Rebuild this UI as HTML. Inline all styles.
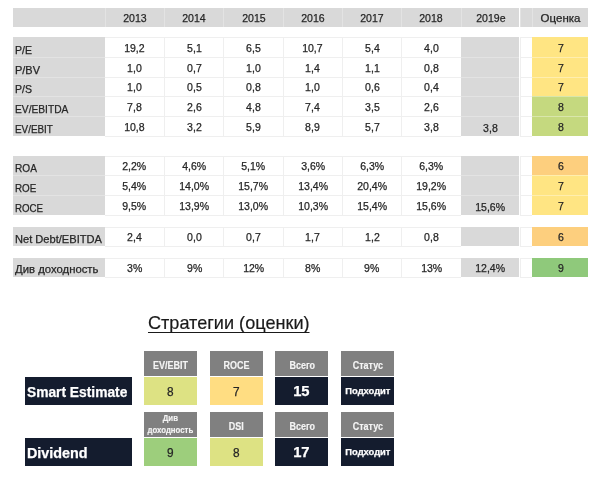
<!DOCTYPE html>
<html><head><meta charset="utf-8"><title>Стратегии (оценки)</title>
<style>
html,body{margin:0;padding:0;background:#fff;}
body{width:600px;height:495px;position:relative;overflow:hidden;font-family:"Liberation Sans",sans-serif;color:#262626;}
.c{position:absolute;box-sizing:border-box;display:flex;align-items:center;justify-content:center;font-size:10.7px;white-space:nowrap;}
.g{background:#d9d9d9;}
.gt{border-top:1px solid #e3e3e3;}
.gl{border-left:1px solid #e3e3e3;}
.l{justify-content:flex-start;padding-left:3px;}
.w{border-left:1px solid #efefef;border-top:1px solid #efefef;}
.wb{border-bottom:1px solid #efefef;}
.w0{border-left:none;}
.sct{border-top:1px solid rgba(255,255,255,.35);}
.s{display:inline-block;transform:scaleX(.985);transform-origin:center;-webkit-text-stroke:0.25px currentColor;position:relative;left:0;}
.l .s{transform-origin:left center;}
.hd{background:#808080;color:#f4f4f4;font-weight:bold;font-size:10px;}
.hd .s{transform:scaleX(.9);-webkit-text-stroke:0.15px currentColor;}
.nv{background:#141c2e;color:#fff;font-weight:bold;}
.nv.l .s{transform:scaleX(.95);}
.hd{padding-top:3px;}
</style></head><body>

<div class="c g" style="left:13px;top:8px;width:92px;height:19px;"><span class="s"></span></div>
<div class="c g gl" style="left:105px;top:8px;width:59.3px;height:19px;align-items:flex-start;line-height:12px;padding-top:4px;"><span class="s">2013</span></div>
<div class="c g gl" style="left:164.3px;top:8px;width:59.1px;height:19px;align-items:flex-start;line-height:12px;padding-top:4px;"><span class="s">2014</span></div>
<div class="c g gl" style="left:223.4px;top:8px;width:59.3px;height:19px;align-items:flex-start;line-height:12px;padding-top:4px;"><span class="s">2015</span></div>
<div class="c g gl" style="left:282.7px;top:8px;width:59.3px;height:19px;align-items:flex-start;line-height:12px;padding-top:4px;"><span class="s">2016</span></div>
<div class="c g gl" style="left:342px;top:8px;width:59.1px;height:19px;align-items:flex-start;line-height:12px;padding-top:4px;"><span class="s">2017</span></div>
<div class="c g gl" style="left:401.1px;top:8px;width:59.5px;height:19px;align-items:flex-start;line-height:12px;padding-top:4px;"><span class="s">2018</span></div>
<div class="c g gl" style="left:460.6px;top:8px;width:58.9px;height:19px;align-items:flex-start;line-height:12px;padding-top:4px;"><span class="s">2019e</span></div>
<div class="c g gl" style="left:519.5px;top:8px;width:12.5px;height:19px;"><span class="s"></span></div>
<div class="c g gl" style="left:532px;top:8px;width:56px;height:19px;align-items:flex-start;line-height:12px;padding-top:4px;"><span class="s" style="transform:scaleX(1.075);">Оценка</span></div>
<div class="c g l" style="left:13px;top:37px;width:92px;height:20px;padding-left:2px;align-items:flex-start;line-height:12px;padding-top:7px;"><span class="s" style="transform:scaleX(0.985);">P/E</span></div>
<div class="c w w0" style="left:105px;top:37px;width:59.3px;height:20px;align-items:flex-start;line-height:12px;padding-top:4px;"><span class="s">19,2</span></div>
<div class="c w" style="left:164.3px;top:37px;width:59.1px;height:20px;align-items:flex-start;line-height:12px;padding-top:4px;"><span class="s">5,1</span></div>
<div class="c w" style="left:223.4px;top:37px;width:59.3px;height:20px;align-items:flex-start;line-height:12px;padding-top:4px;"><span class="s">6,5</span></div>
<div class="c w" style="left:282.7px;top:37px;width:59.3px;height:20px;align-items:flex-start;line-height:12px;padding-top:4px;"><span class="s">10,7</span></div>
<div class="c w" style="left:342px;top:37px;width:59.1px;height:20px;align-items:flex-start;line-height:12px;padding-top:4px;"><span class="s">5,4</span></div>
<div class="c w" style="left:401.1px;top:37px;width:59.5px;height:20px;align-items:flex-start;line-height:12px;padding-top:4px;"><span class="s">4,0</span></div>
<div class="c g" style="left:460.6px;top:37px;width:58.9px;height:20px;align-items:flex-start;line-height:12px;padding-top:6px;"><span class="s"></span></div>
<div class="c w" style="left:519.5px;top:37px;width:12.5px;height:20px;"><span class="s"></span></div>
<div class="c " style="left:532px;top:37px;width:56px;height:20px;background:#FFE583;padding-left:2px;align-items:flex-start;line-height:12px;padding-top:5px;"><span class="s">7</span></div>
<div class="c g l gt" style="left:13px;top:57px;width:92px;height:20px;padding-left:2px;align-items:flex-start;line-height:12px;padding-top:6px;"><span class="s" style="transform:scaleX(1.025);">P/BV</span></div>
<div class="c w w0" style="left:105px;top:57px;width:59.3px;height:20px;align-items:flex-start;line-height:12px;padding-top:4px;"><span class="s">1,0</span></div>
<div class="c w" style="left:164.3px;top:57px;width:59.1px;height:20px;align-items:flex-start;line-height:12px;padding-top:4px;"><span class="s">0,7</span></div>
<div class="c w" style="left:223.4px;top:57px;width:59.3px;height:20px;align-items:flex-start;line-height:12px;padding-top:4px;"><span class="s">1,0</span></div>
<div class="c w" style="left:282.7px;top:57px;width:59.3px;height:20px;align-items:flex-start;line-height:12px;padding-top:4px;"><span class="s">1,4</span></div>
<div class="c w" style="left:342px;top:57px;width:59.1px;height:20px;align-items:flex-start;line-height:12px;padding-top:4px;"><span class="s">1,1</span></div>
<div class="c w" style="left:401.1px;top:57px;width:59.5px;height:20px;align-items:flex-start;line-height:12px;padding-top:4px;"><span class="s">0,8</span></div>
<div class="c g gt" style="left:460.6px;top:57px;width:58.9px;height:20px;align-items:flex-start;line-height:12px;padding-top:5px;"><span class="s"></span></div>
<div class="c w" style="left:519.5px;top:57px;width:12.5px;height:20px;"><span class="s"></span></div>
<div class="c sct" style="left:532px;top:57px;width:56px;height:20px;background:#FFE583;padding-left:2px;align-items:flex-start;line-height:12px;padding-top:4px;"><span class="s">7</span></div>
<div class="c g l gt" style="left:13px;top:77px;width:92px;height:19px;padding-left:2px;align-items:flex-start;line-height:12px;padding-top:5px;"><span class="s" style="transform:scaleX(0.985);">P/S</span></div>
<div class="c w w0" style="left:105px;top:77px;width:59.3px;height:19px;align-items:flex-start;line-height:12px;padding-top:3px;"><span class="s">1,0</span></div>
<div class="c w" style="left:164.3px;top:77px;width:59.1px;height:19px;align-items:flex-start;line-height:12px;padding-top:3px;"><span class="s">0,5</span></div>
<div class="c w" style="left:223.4px;top:77px;width:59.3px;height:19px;align-items:flex-start;line-height:12px;padding-top:3px;"><span class="s">0,8</span></div>
<div class="c w" style="left:282.7px;top:77px;width:59.3px;height:19px;align-items:flex-start;line-height:12px;padding-top:3px;"><span class="s">1,0</span></div>
<div class="c w" style="left:342px;top:77px;width:59.1px;height:19px;align-items:flex-start;line-height:12px;padding-top:3px;"><span class="s">0,6</span></div>
<div class="c w" style="left:401.1px;top:77px;width:59.5px;height:19px;align-items:flex-start;line-height:12px;padding-top:3px;"><span class="s">0,4</span></div>
<div class="c g gt" style="left:460.6px;top:77px;width:58.9px;height:19px;align-items:flex-start;line-height:12px;padding-top:4px;"><span class="s"></span></div>
<div class="c w" style="left:519.5px;top:77px;width:12.5px;height:19px;"><span class="s"></span></div>
<div class="c sct" style="left:532px;top:77px;width:56px;height:19px;background:#FFE583;padding-left:2px;align-items:flex-start;line-height:12px;padding-top:3px;"><span class="s">7</span></div>
<div class="c g l gt" style="left:13px;top:96px;width:92px;height:20px;padding-left:2px;align-items:flex-start;line-height:12px;padding-top:6px;"><span class="s" style="transform:scaleX(0.956);">EV/EBITDA</span></div>
<div class="c w w0" style="left:105px;top:96px;width:59.3px;height:20px;align-items:flex-start;line-height:12px;padding-top:4px;"><span class="s">7,8</span></div>
<div class="c w" style="left:164.3px;top:96px;width:59.1px;height:20px;align-items:flex-start;line-height:12px;padding-top:4px;"><span class="s">2,6</span></div>
<div class="c w" style="left:223.4px;top:96px;width:59.3px;height:20px;align-items:flex-start;line-height:12px;padding-top:4px;"><span class="s">4,8</span></div>
<div class="c w" style="left:282.7px;top:96px;width:59.3px;height:20px;align-items:flex-start;line-height:12px;padding-top:4px;"><span class="s">7,4</span></div>
<div class="c w" style="left:342px;top:96px;width:59.1px;height:20px;align-items:flex-start;line-height:12px;padding-top:4px;"><span class="s">3,5</span></div>
<div class="c w" style="left:401.1px;top:96px;width:59.5px;height:20px;align-items:flex-start;line-height:12px;padding-top:4px;"><span class="s">2,6</span></div>
<div class="c g gt" style="left:460.6px;top:96px;width:58.9px;height:20px;align-items:flex-start;line-height:12px;padding-top:5px;"><span class="s"></span></div>
<div class="c w" style="left:519.5px;top:96px;width:12.5px;height:20px;"><span class="s"></span></div>
<div class="c sct" style="left:532px;top:96px;width:56px;height:20px;background:#C5D97F;padding-left:2px;align-items:flex-start;line-height:12px;padding-top:4px;"><span class="s">8</span></div>
<div class="c g l gt" style="left:13px;top:116px;width:92px;height:20px;padding-left:2px;align-items:flex-start;line-height:12px;padding-top:6px;"><span class="s" style="transform:scaleX(0.925);">EV/EBIT</span></div>
<div class="c w wb w0" style="left:105px;top:116px;width:59.3px;height:21px;align-items:flex-start;line-height:12px;padding-top:4px;"><span class="s">10,8</span></div>
<div class="c w wb" style="left:164.3px;top:116px;width:59.1px;height:21px;align-items:flex-start;line-height:12px;padding-top:4px;"><span class="s">3,2</span></div>
<div class="c w wb" style="left:223.4px;top:116px;width:59.3px;height:21px;align-items:flex-start;line-height:12px;padding-top:4px;"><span class="s">5,9</span></div>
<div class="c w wb" style="left:282.7px;top:116px;width:59.3px;height:21px;align-items:flex-start;line-height:12px;padding-top:4px;"><span class="s">8,9</span></div>
<div class="c w wb" style="left:342px;top:116px;width:59.1px;height:21px;align-items:flex-start;line-height:12px;padding-top:4px;"><span class="s">5,7</span></div>
<div class="c w wb" style="left:401.1px;top:116px;width:59.5px;height:21px;align-items:flex-start;line-height:12px;padding-top:4px;"><span class="s">3,8</span></div>
<div class="c g gt" style="left:460.6px;top:116px;width:58.9px;height:20px;align-items:flex-start;line-height:12px;padding-top:5px;"><span class="s">3,8</span></div>
<div class="c w wb" style="left:519.5px;top:116px;width:12.5px;height:21px;"><span class="s"></span></div>
<div class="c sct" style="left:532px;top:116px;width:56px;height:20px;background:#C5D97F;padding-left:2px;align-items:flex-start;line-height:12px;padding-top:4px;"><span class="s">8</span></div>
<div class="c g l" style="left:13px;top:156px;width:92px;height:19px;padding-left:2px;align-items:flex-start;line-height:12px;padding-top:6px;"><span class="s" style="transform:scaleX(0.945);">ROA</span></div>
<div class="c w w0" style="left:105px;top:156px;width:59.3px;height:19px;align-items:flex-start;line-height:12px;padding-top:3px;"><span class="s">2,2%</span></div>
<div class="c w" style="left:164.3px;top:156px;width:59.1px;height:19px;align-items:flex-start;line-height:12px;padding-top:3px;"><span class="s">4,6%</span></div>
<div class="c w" style="left:223.4px;top:156px;width:59.3px;height:19px;align-items:flex-start;line-height:12px;padding-top:3px;"><span class="s">5,1%</span></div>
<div class="c w" style="left:282.7px;top:156px;width:59.3px;height:19px;align-items:flex-start;line-height:12px;padding-top:3px;"><span class="s">3,6%</span></div>
<div class="c w" style="left:342px;top:156px;width:59.1px;height:19px;align-items:flex-start;line-height:12px;padding-top:3px;"><span class="s">6,3%</span></div>
<div class="c w" style="left:401.1px;top:156px;width:59.5px;height:19px;align-items:flex-start;line-height:12px;padding-top:3px;"><span class="s">6,3%</span></div>
<div class="c g" style="left:460.6px;top:156px;width:58.9px;height:19px;align-items:flex-start;line-height:12px;padding-top:5px;"><span class="s"></span></div>
<div class="c w" style="left:519.5px;top:156px;width:12.5px;height:19px;"><span class="s"></span></div>
<div class="c " style="left:532px;top:156px;width:56px;height:19px;background:#FDCF7E;padding-left:2px;align-items:flex-start;line-height:12px;padding-top:4px;"><span class="s">6</span></div>
<div class="c g l gt" style="left:13px;top:175px;width:92px;height:20px;padding-left:2px;align-items:flex-start;line-height:12px;padding-top:6px;"><span class="s" style="transform:scaleX(0.92);">ROE</span></div>
<div class="c w w0" style="left:105px;top:175px;width:59.3px;height:20px;align-items:flex-start;line-height:12px;padding-top:4px;"><span class="s">5,4%</span></div>
<div class="c w" style="left:164.3px;top:175px;width:59.1px;height:20px;align-items:flex-start;line-height:12px;padding-top:4px;"><span class="s">14,0%</span></div>
<div class="c w" style="left:223.4px;top:175px;width:59.3px;height:20px;align-items:flex-start;line-height:12px;padding-top:4px;"><span class="s">15,7%</span></div>
<div class="c w" style="left:282.7px;top:175px;width:59.3px;height:20px;align-items:flex-start;line-height:12px;padding-top:4px;"><span class="s">13,4%</span></div>
<div class="c w" style="left:342px;top:175px;width:59.1px;height:20px;align-items:flex-start;line-height:12px;padding-top:4px;"><span class="s">20,4%</span></div>
<div class="c w" style="left:401.1px;top:175px;width:59.5px;height:20px;align-items:flex-start;line-height:12px;padding-top:4px;"><span class="s">19,2%</span></div>
<div class="c g gt" style="left:460.6px;top:175px;width:58.9px;height:20px;align-items:flex-start;line-height:12px;padding-top:5px;"><span class="s"></span></div>
<div class="c w" style="left:519.5px;top:175px;width:12.5px;height:20px;"><span class="s"></span></div>
<div class="c sct" style="left:532px;top:175px;width:56px;height:20px;background:#FFE583;padding-left:2px;align-items:flex-start;line-height:12px;padding-top:4px;"><span class="s">7</span></div>
<div class="c g l gt" style="left:13px;top:195px;width:92px;height:20px;padding-left:2px;align-items:flex-start;line-height:12px;padding-top:6px;"><span class="s" style="transform:scaleX(0.91);">ROCE</span></div>
<div class="c w wb w0" style="left:105px;top:195px;width:59.3px;height:21px;align-items:flex-start;line-height:12px;padding-top:4px;"><span class="s">9,5%</span></div>
<div class="c w wb" style="left:164.3px;top:195px;width:59.1px;height:21px;align-items:flex-start;line-height:12px;padding-top:4px;"><span class="s">13,9%</span></div>
<div class="c w wb" style="left:223.4px;top:195px;width:59.3px;height:21px;align-items:flex-start;line-height:12px;padding-top:4px;"><span class="s">13,0%</span></div>
<div class="c w wb" style="left:282.7px;top:195px;width:59.3px;height:21px;align-items:flex-start;line-height:12px;padding-top:4px;"><span class="s">10,3%</span></div>
<div class="c w wb" style="left:342px;top:195px;width:59.1px;height:21px;align-items:flex-start;line-height:12px;padding-top:4px;"><span class="s">15,4%</span></div>
<div class="c w wb" style="left:401.1px;top:195px;width:59.5px;height:21px;align-items:flex-start;line-height:12px;padding-top:4px;"><span class="s">15,6%</span></div>
<div class="c g gt" style="left:460.6px;top:195px;width:58.9px;height:20px;align-items:flex-start;line-height:12px;padding-top:5px;"><span class="s">15,6%</span></div>
<div class="c w wb" style="left:519.5px;top:195px;width:12.5px;height:21px;"><span class="s"></span></div>
<div class="c sct" style="left:532px;top:195px;width:56px;height:20px;background:#FFE583;padding-left:2px;align-items:flex-start;line-height:12px;padding-top:4px;"><span class="s">7</span></div>
<div class="c g l" style="left:13px;top:227px;width:92px;height:19px;padding-left:2px;align-items:flex-start;line-height:12px;padding-top:6px;"><span class="s" style="transform:scaleX(1.038);">Net Debt/EBITDA</span></div>
<div class="c w wb w0" style="left:105px;top:227px;width:59.3px;height:20px;align-items:flex-start;line-height:12px;padding-top:3px;"><span class="s">2,4</span></div>
<div class="c w wb" style="left:164.3px;top:227px;width:59.1px;height:20px;align-items:flex-start;line-height:12px;padding-top:3px;"><span class="s">0,0</span></div>
<div class="c w wb" style="left:223.4px;top:227px;width:59.3px;height:20px;align-items:flex-start;line-height:12px;padding-top:3px;"><span class="s">0,7</span></div>
<div class="c w wb" style="left:282.7px;top:227px;width:59.3px;height:20px;align-items:flex-start;line-height:12px;padding-top:3px;"><span class="s">1,7</span></div>
<div class="c w wb" style="left:342px;top:227px;width:59.1px;height:20px;align-items:flex-start;line-height:12px;padding-top:3px;"><span class="s">1,2</span></div>
<div class="c w wb" style="left:401.1px;top:227px;width:59.5px;height:20px;align-items:flex-start;line-height:12px;padding-top:3px;"><span class="s">0,8</span></div>
<div class="c g" style="left:460.6px;top:227px;width:58.9px;height:19px;align-items:flex-start;line-height:12px;padding-top:5px;"><span class="s"></span></div>
<div class="c w wb" style="left:519.5px;top:227px;width:12.5px;height:20px;"><span class="s"></span></div>
<div class="c " style="left:532px;top:227px;width:56px;height:19px;background:#FDCF7E;padding-left:2px;align-items:flex-start;line-height:12px;padding-top:4px;"><span class="s">6</span></div>
<div class="c g l" style="left:13px;top:257.5px;width:92px;height:19.0px;padding-left:2px;align-items:flex-start;line-height:12px;padding-top:5.5px;"><span class="s" style="transform:scaleX(1.06);">Див доходность</span></div>
<div class="c w wb w0" style="left:105px;top:257.5px;width:59.3px;height:20.0px;align-items:flex-start;line-height:12px;padding-top:3.5px;"><span class="s">3%</span></div>
<div class="c w wb" style="left:164.3px;top:257.5px;width:59.1px;height:20.0px;align-items:flex-start;line-height:12px;padding-top:3.5px;"><span class="s">9%</span></div>
<div class="c w wb" style="left:223.4px;top:257.5px;width:59.3px;height:20.0px;align-items:flex-start;line-height:12px;padding-top:3.5px;"><span class="s">12%</span></div>
<div class="c w wb" style="left:282.7px;top:257.5px;width:59.3px;height:20.0px;align-items:flex-start;line-height:12px;padding-top:3.5px;"><span class="s">8%</span></div>
<div class="c w wb" style="left:342px;top:257.5px;width:59.1px;height:20.0px;align-items:flex-start;line-height:12px;padding-top:3.5px;"><span class="s">9%</span></div>
<div class="c w wb" style="left:401.1px;top:257.5px;width:59.5px;height:20.0px;align-items:flex-start;line-height:12px;padding-top:3.5px;"><span class="s">13%</span></div>
<div class="c g" style="left:460.6px;top:257.5px;width:58.9px;height:19.0px;align-items:flex-start;line-height:12px;padding-top:4.5px;"><span class="s">12,4%</span></div>
<div class="c w wb" style="left:519.5px;top:257.5px;width:12.5px;height:20.0px;"><span class="s"></span></div>
<div class="c " style="left:532px;top:257.5px;width:56px;height:19.0px;background:#8FC97B;padding-left:2px;align-items:flex-start;line-height:12px;padding-top:4.5px;"><span class="s">9</span></div>
<div class="c" style="left:147px;top:309.5px;width:164px;height:26px;font-size:19px;color:#1a1a1a;"><span class="s" style="transform:scaleX(.953);left:0;text-decoration:underline;text-decoration-thickness:1.4px;text-underline-offset:3px;text-decoration-skip-ink:none;-webkit-text-stroke:0.2px;">Стратегии (оценки)</span></div>
<div class="c nv l" style="left:24.5px;top:376.5px;width:107.25px;height:28.0px;font-size:14.5px;padding-left:2.5px;padding-top:2.5px;"><span class="s" style="transform:scaleX(0.95);">Smart Estimate</span></div>
<div class="c hd" style="left:144.25px;top:351px;width:52.75px;height:25px;"><span class="s">EV/EBIT</span></div>
<div class="c " style="left:144.25px;top:377px;width:52.75px;height:27.5px;background:#DDE283;font-size:12px;padding-top:1.5px;"><span class="s">8</span></div>
<div class="c hd" style="left:210px;top:351px;width:52.75px;height:25px;"><span class="s">ROCE</span></div>
<div class="c " style="left:210px;top:377px;width:52.75px;height:27.5px;background:#FFDD82;font-size:12px;padding-top:1.5px;"><span class="s">7</span></div>
<div class="c hd" style="left:275.4px;top:351px;width:52.75px;height:25px;"><span class="s">Всего</span></div>
<div class="c nv" style="left:275.4px;top:377px;width:52.75px;height:27.5px;font-size:15px;"><span class="s">15</span></div>
<div class="c hd" style="left:341.25px;top:351px;width:52.75px;height:25px;"><span class="s">Статус</span></div>
<div class="c nv" style="left:341.25px;top:377px;width:52.75px;height:27.5px;font-size:9.5px;"><span class="s">Подходит</span></div>
<div class="c nv l" style="left:24.5px;top:437.5px;width:107.25px;height:28.0px;font-size:14.5px;padding-left:2.5px;padding-top:2.5px;"><span class="s" style="transform:scaleX(0.99);">Dividend</span></div>
<div class="c hd" style="left:144.25px;top:412px;width:52.75px;height:25px;"><span class="s"><span style="display:block;text-align:center;font-size:8.7px;line-height:11.3px;white-space:normal;position:relative;top:-1.5px;">Див<br>доходность</span></span></div>
<div class="c " style="left:144.25px;top:438px;width:52.75px;height:27.5px;background:#9DCE7C;font-size:12px;padding-top:1.5px;"><span class="s">9</span></div>
<div class="c hd" style="left:210px;top:412px;width:52.75px;height:25px;"><span class="s">DSI</span></div>
<div class="c " style="left:210px;top:438px;width:52.75px;height:27.5px;background:#DDE283;font-size:12px;padding-top:1.5px;"><span class="s">8</span></div>
<div class="c hd" style="left:275.4px;top:412px;width:52.75px;height:25px;"><span class="s">Всего</span></div>
<div class="c nv" style="left:275.4px;top:438px;width:52.75px;height:27.5px;font-size:15px;"><span class="s">17</span></div>
<div class="c hd" style="left:341.25px;top:412px;width:52.75px;height:25px;"><span class="s">Статус</span></div>
<div class="c nv" style="left:341.25px;top:438px;width:52.75px;height:27.5px;font-size:9.5px;"><span class="s">Подходит</span></div>
</body></html>
